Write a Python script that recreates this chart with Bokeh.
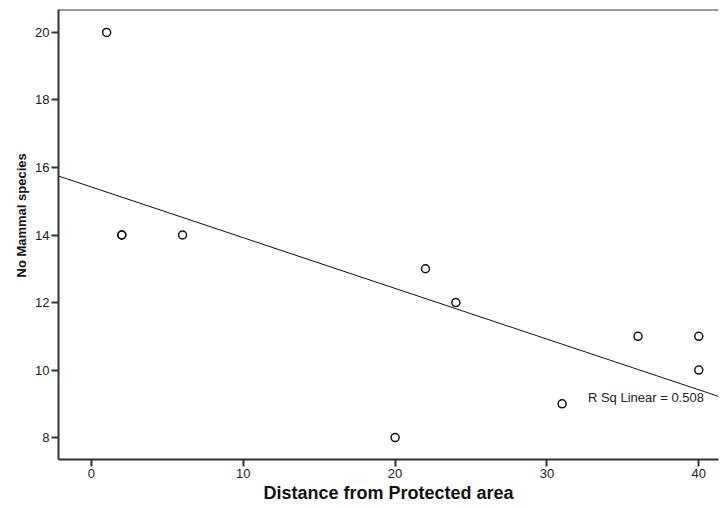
import numpy as np
from bokeh.plotting import figure
from bokeh.models import Range1d, Span, Label, FixedTicker, Title
from bokeh.embed import file_html
from bokeh.resources import INLINE

# Data
distance = [1, 2, 2, 6, 20, 22, 24, 31, 36, 40, 40]
mammal_species = [20, 14, 14, 14, 8, 13, 12, 9, 11, 11, 10]
x_ticks = [0, 10, 20, 30, 40]
y_ticks = [8, 10, 12, 14, 16, 18, 20]

x0, x1 = -2.17, 41.3
y0, y1 = 7.35, 20.68

p = figure(width=720, height=508, output_backend="svg", toolbar_location=None,
           x_range=Range1d(x0, x1), y_range=Range1d(y0, y1),
           min_border_left=58, min_border_right=2, min_border_top=9, min_border_bottom=49)
p.background_fill_color = "white"
p.border_fill_color = "white"
p.outline_line_color = None
p.xgrid.visible = False
p.ygrid.visible = False

for ax in (p.xaxis[0], p.yaxis[0]):
    ax.axis_line_color = "#333333"
    ax.axis_line_width = 2
    ax.major_tick_line_color = "#333333"
    ax.major_tick_line_width = 2
    ax.major_tick_out = 7
    ax.major_tick_in = 0
    ax.minor_tick_line_color = None
    ax.major_label_text_font = "Liberation Sans"
    ax.major_label_text_font_size = "13px"
    ax.major_label_text_color = "#222222"
    ax.major_label_standoff = 2
    ax.axis_label_text_font = "Liberation Sans"
    ax.axis_label_text_font_style = "bold"
    ax.axis_label_text_color = "#111111"

p.xaxis.ticker = FixedTicker(ticks=x_ticks)
p.yaxis.ticker = FixedTicker(ticks=y_ticks)
p.xaxis.axis_label = "Distance from Protected area"
p.xaxis.axis_label_text_font_size = "18px"
p.xaxis.axis_label_standoff = 2

# y-axis title placed as in the reference (above the frame centre)
p.add_layout(Title(text="No Mammal species", align="left", offset=182, standoff=8,
                   text_font="Liberation Sans", text_font_style="bold",
                   text_font_size="13px", text_color="#111111"), "left")

# top frame line
p.add_layout(Span(location=y1, dimension="width", line_color="#333333", line_width=2))

# linear fit
slope, intercept = np.polyfit(distance, mammal_species, 1)
xs = np.array([x0, x1])
p.line(xs, intercept + slope * xs, line_color="#111111", line_width=1)

p.scatter(distance, mammal_species, marker="circle", size=8, fill_color=None,
          line_color="#111111", line_width=1.5)

r2 = np.corrcoef(distance, mammal_species)[0, 1] ** 2
p.add_layout(Label(x=32.7, y=9.19, text=f"R Sq Linear = {r2:.3f}", text_font="Liberation Sans",
                   text_font_size="13px", text_baseline="middle", text_align="left",
                   text_color="#222222"))

open("out.html", "w").write(file_html(p, INLINE))
